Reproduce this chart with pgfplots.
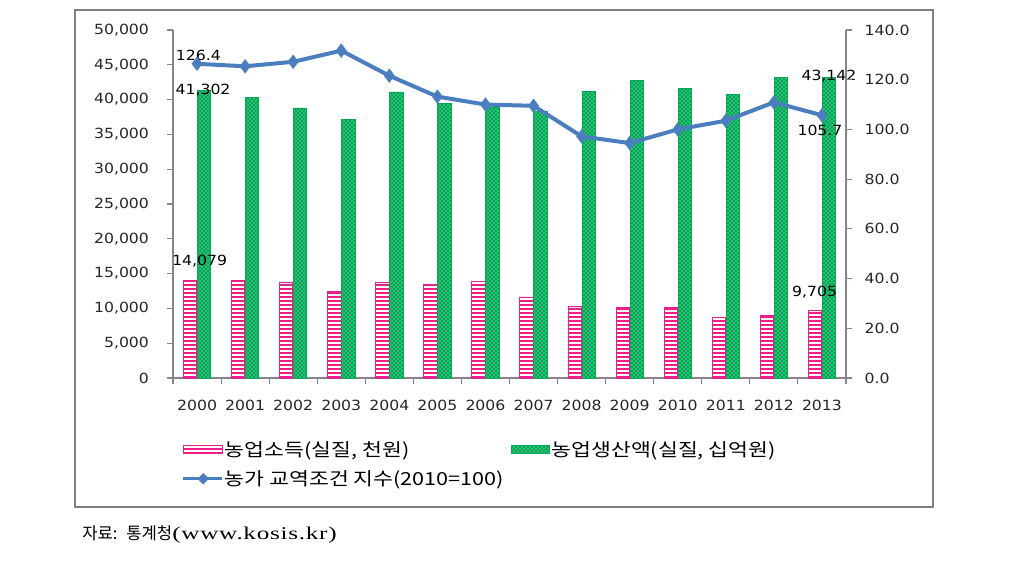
\documentclass[border=0pt]{standalone}
\usepackage{pgfplots}
\pgfplotsset{compat=1.18}
\usepackage{fontspec}
\usetikzlibrary{patterns,patterns.meta}
\setmainfont{DejaVu Sans}
\newfontfamily\tickfont[FakeStretch=1.12]{DejaVu Sans}
\newfontfamily\kr{Noto Sans CJK KR}
\newfontfamily\krwide[FakeStretch=1.2]{Noto Sans CJK KR}
\newfontfamily\capserif[FakeStretch=1.4,LetterSpace=4]{Liberation Serif}
\definecolor{pinkbar}{RGB}{238,30,140}
\definecolor{greenbar}{RGB}{0,170,85}
\definecolor{blueline}{RGB}{74,126,190}
\definecolor{axgray}{RGB}{134,134,134}
\definecolor{framegray}{RGB}{128,128,128}
\begin{document}
\begin{tikzpicture}[x=0.75pt,y=0.75pt]
\path[use as bounding box] (0,0) rectangle (1024,577);
\draw[framegray, line width=1.5pt] (75,567) rectangle (933,70);
% left axis with bars
\begin{axis}[
  at={(129.75pt,149.25pt)}, anchor=south west,
  scale only axis, width=504.75pt, height=261pt,
  xmin=-0.5, xmax=13.5, ymin=0, ymax=50000,
  axis x line*=bottom, axis y line*=left,
  axis line style={draw=axgray, line width=0.8pt, -},
  tick style={draw=axgray, line width=0.8pt},
  tick align=outside, major tick length=4.5pt,
  xtick={-0.5,0.5,...,13.5},
  x tick label as interval,
  xticklabels={2000,2001,2002,2003,2004,2005,2006,2007,2008,2009,2010,2011,2012,2013},
  x tick label style={font=\tickfont\fontsize{10.5}{12}\selectfont, text=black!85, yshift=-8.5pt},
  ytick={0,5000,...,50000},
  y tick label style={font=\tickfont\fontsize{10.5}{12}\selectfont, text=black!85, xshift=-10pt},
  scaled y ticks=false,
  /pgf/number format/.cd, 1000 sep={,}, assume math mode=true,
  /pgfplots/.cd,
  clip=false,
  legend columns=2,
  legend cell align=left,
  legend style={at={(0.0104,-0.17)}, anchor=north west, draw=none, fill=none,
    font=\krwide\fontsize{13.5}{15}\selectfont, row sep=5pt, inner sep=1pt,
    /tikz/every even column/.append style={column sep=3pt},
    /tikz/every odd column/.append style={column sep=-1pt}},
  legend image code/.code={\draw[#1] (0pt,-3pt) rectangle (29pt,3pt);},
]
\addplot[ybar, bar width=10pt, bar shift=-5.25pt, draw=pinkbar, line width=0.6pt,
  pattern={Lines[angle=0,distance=3pt,line width=1.9pt]}, pattern color=pinkbar]
  coordinates {(0,14079) (1,14050) (2,13800) (3,12460) (4,13770) (5,13380) (6,13860)
               (7,11640) (8,10340) (9,10130) (10,10100) (11,8640) (12,9020) (13,9705)};
\addlegendentry{농업소득(실질, 천원)}
\addplot[ybar, bar width=10pt, bar shift=5.25pt, draw=greenbar, line width=0.6pt,
  fill=greenbar, postaction={pattern=crosshatch dots, pattern color=white!85!greenbar}]
  coordinates {(0,41302) (1,40250) (2,38800) (3,37150) (4,41100) (5,39470) (6,38950)
               (7,38260) (8,41200) (9,42700) (10,41650) (11,40780) (12,43150) (13,43142)};
\addlegendentry{농업생산액(실질, 십억원)}
\addlegendimage{legend image code/.code={
   \draw[blueline, line width=2.5pt] (0pt,0pt) -- (29pt,0pt);
   \fill[blueline] (15pt,4pt) -- (19pt,0pt) -- (15pt,-4pt) -- (11pt,0pt) -- cycle;}}
\addlegendentry{농가 교역조건 지수(2010=100)}
\node[font=\tickfont\fontsize{10.5}{12}\selectfont] at (axis cs:0,41302) [yshift=0pt, xshift=4.5pt] {41,302};
\node[font=\tickfont\fontsize{10.5}{12}\selectfont] at (axis cs:0,14079) [yshift=14.5pt, xshift=2pt] {14,079};
\node[font=\tickfont\fontsize{10.5}{12}\selectfont] at (axis cs:13,43142) [yshift=1.5pt, xshift=5.25pt] {43,142};
\node[font=\tickfont\fontsize{10.5}{12}\selectfont] at (axis cs:13,9705) [yshift=13.5pt, xshift=-5.5pt] {9,705};
\end{axis}
% right axis with line
\begin{axis}[
  at={(129.75pt,149.25pt)}, anchor=south west,
  scale only axis, width=504.75pt, height=261pt,
  xmin=-0.5, xmax=13.5, ymin=0, ymax=140,
  axis x line=none, axis y line*=right,
  axis line style={draw=axgray, line width=0.8pt, -},
  tick style={draw=axgray, line width=0.8pt},
  tick align=outside, major tick length=4.5pt,
  ytick={0,20,...,140},
  y tick label style={font=\tickfont\fontsize{10.5}{12}\selectfont, text=black!85, xshift=6pt},
  /pgf/number format/.cd, fixed, fixed zerofill, precision=1, assume math mode=true,
  /pgfplots/.cd,
  clip=false,
]
\addplot[blueline, line width=3pt, mark=diamond*, mark size=5pt,
  mark options={fill=blueline, draw=blueline, line width=0.5pt}]
  coordinates {(0,126.4) (1,125.4) (2,127.2) (3,131.7) (4,121.6) (5,113.2) (6,110.0)
               (7,109.5) (8,97.2) (9,94.5) (10,100.0) (11,103.5) (12,110.9) (13,105.7)};
\node[font=\tickfont\fontsize{10.5}{12}\selectfont] at (axis cs:0,126.4) [yshift=6pt, xshift=1pt] {126.4};
\node[font=\tickfont\fontsize{10.5}{12}\selectfont] at (axis cs:13,105.7) [yshift=-11pt, xshift=-1.5pt] {105.7};
\end{axis}
\node[anchor=base west, inner sep=0pt] at (82,37) {{\kr\fontsize{12.5}{14}\selectfont 자료:~ 통계청}{\capserif\fontsize{13.5}{15}\selectfont (www.kosis.kr)}};
\end{tikzpicture}
\end{document}
